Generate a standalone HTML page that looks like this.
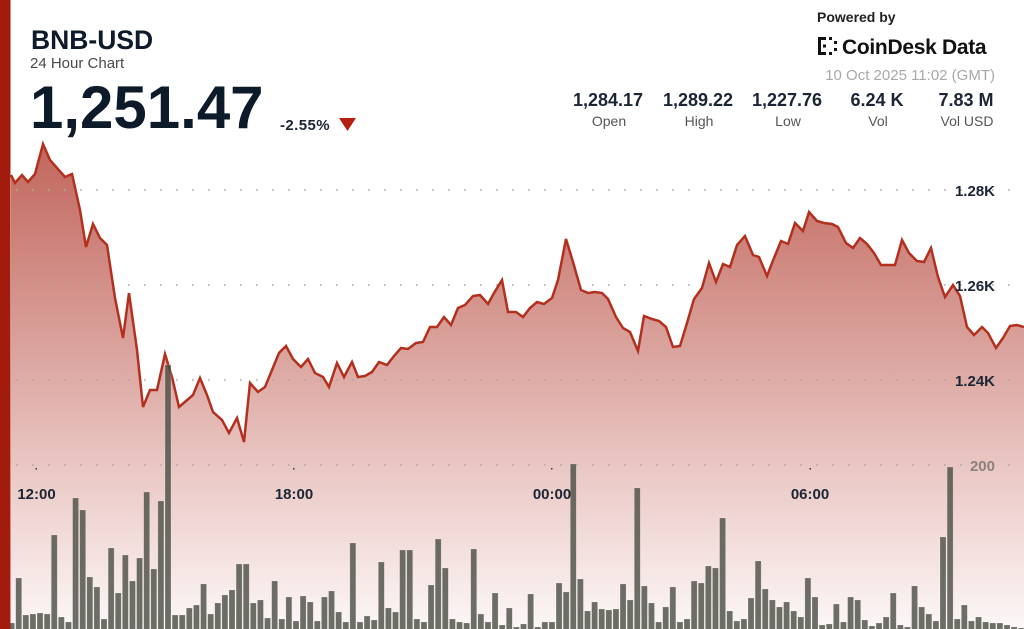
<!DOCTYPE html>
<html>
<head>
<meta charset="utf-8">
<style>
html,body{margin:0;padding:0;background:#fff;}
body{width:1024px;height:629px;overflow:hidden;}
svg{display:block;font-family:"Liberation Sans",sans-serif;}
</style>
</head>
<body>
<svg width="1024" height="629" viewBox="0 0 1024 629" xmlns="http://www.w3.org/2000/svg">
<defs>
<linearGradient id="ag" x1="0" y1="144" x2="0" y2="629" gradientUnits="userSpaceOnUse">
<stop offset="0" stop-color="#c1665c"/>
<stop offset="0.5" stop-color="#dfaea9"/>
<stop offset="0.7" stop-color="#ecccc9"/>
<stop offset="1" stop-color="#fcf7f7"/>
</linearGradient>
</defs>
<rect x="0" y="0" width="1024" height="629" fill="#fff"/>
<polygon fill="url(#ag)" points="11,629 11,175 15,183 22,175 28,182 35,174 43,144 50,160 57,168 65,177 72,174 80,210 86,247 93,224 100,238 107,245 115,298 123,338 129,293 137,350 143,407 150,390 157,390 165,354 172,377 179,407 186,401 193,395 200,378 207,395 213,412 222,420 229,433 237,418 244,442 250,383 258,392 265,387 272,370 279,353 286,346 293,359 301,367 308,359 315,373 323,377 329,387 337,363 344,377 352,362 358,377 365,376 372,372 379,362 387,365 394,356 401,348 408,349 416,343 423,342 430,327 437,327 444,317 451,325 458,308 465,305 473,296 480,295 488,304 494,293 502,280 508,312 516,312 523,317 530,308 537,302 544,304 552,298 558,280 566,239 573,262 581,290 588,293 595,292 602,293 608,299 616,317 623,328 630,332 638,351 644,316 652,319 659,321 666,327 673,347 680,346 687,323 694,299 702,288 709,263 716,282 723,264 730,267 737,245 745,236 753,255 759,257 767,276 774,258 781,241 788,244 795,223 803,231 809,212 817,221 824,223 832,224 838,227 846,243 853,248 860,238 867,244 874,253 881,265 888,265 895,265 902,240 909,253 917,261 924,262 931,248 938,277 945,297 953,285 960,296 967,327 974,335 982,327 988,333 996,348 1003,338 1010,326 1017,325 1024,327 1024,629"/>
<g stroke="#a9a9a9" stroke-width="1.6" stroke-dasharray="1.6 14.4" fill="none">
<line x1="16" y1="190" x2="1024" y2="190"/>
<line x1="16" y1="285" x2="1024" y2="285"/>
<line x1="16" y1="380" x2="1024" y2="380"/>
<line x1="16" y1="465" x2="1024" y2="465"/>
</g>
<polyline fill="none" stroke="#b3301e" stroke-width="2.5" points="11,175 15,183 22,175 28,182 35,174 43,144 50,160 57,168 65,177 72,174 80,210 86,247 93,224 100,238 107,245 115,298 123,338 129,293 137,350 143,407 150,390 157,390 165,354 172,377 179,407 186,401 193,395 200,378 207,395 213,412 222,420 229,433 237,418 244,442 250,383 258,392 265,387 272,370 279,353 286,346 293,359 301,367 308,359 315,373 323,377 329,387 337,363 344,377 352,362 358,377 365,376 372,372 379,362 387,365 394,356 401,348 408,349 416,343 423,342 430,327 437,327 444,317 451,325 458,308 465,305 473,296 480,295 488,304 494,293 502,280 508,312 516,312 523,317 530,308 537,302 544,304 552,298 558,280 566,239 573,262 581,290 588,293 595,292 602,293 608,299 616,317 623,328 630,332 638,351 644,316 652,319 659,321 666,327 673,347 680,346 687,323 694,299 702,288 709,263 716,282 723,264 730,267 737,245 745,236 753,255 759,257 767,276 774,258 781,241 788,244 795,223 803,231 809,212 817,221 824,223 832,224 838,227 846,243 853,248 860,238 867,244 874,253 881,265 888,265 895,265 902,240 909,253 917,261 924,262 931,248 938,277 945,297 953,285 960,296 967,327 974,335 982,327 988,333 996,348 1003,338 1010,326 1017,325 1024,327"/>
<path fill="rgba(72,76,66,0.8)" stroke="rgba(255,255,255,0.35)" stroke-width="0.6" d="M8.59,623h6V630h-6z M15.7,578h6V630h-6z M22.81,615h6V630h-6z M29.92,614h6V630h-6z M37.03,613h6V630h-6z M44.14,614h6V630h-6z M51.25,535h6V630h-6z M58.36,617h6V630h-6z M65.47,622h6V630h-6z M72.58,498h6V630h-6z M79.69,510h6V630h-6z M86.8,577h6V630h-6z M93.91,587h6V630h-6z M101.02,619h6V630h-6z M108.13,548h6V630h-6z M115.24,593h6V630h-6z M122.35,555h6V630h-6z M129.46,581h6V630h-6z M136.57,558h6V630h-6z M143.68,492h6V630h-6z M150.79,569h6V630h-6z M157.9,501h6V630h-6z M165.01,365h6V630h-6z M172.12,615h6V630h-6z M179.23,615h6V630h-6z M186.34,608h6V630h-6z M193.45,605h6V630h-6z M200.56,584h6V630h-6z M207.67,614h6V630h-6z M214.78,603h6V630h-6z M221.89,595h6V630h-6z M229,590h6V630h-6z M236.11,564h6V630h-6z M243.22,564h6V630h-6z M250.33,603h6V630h-6z M257.44,600h6V630h-6z M264.55,618h6V630h-6z M271.66,581h6V630h-6z M278.77,619h6V630h-6z M285.88,597h6V630h-6z M292.99,621h6V630h-6z M300.1,596h6V630h-6z M307.21,602h6V630h-6z M314.32,621h6V630h-6z M321.43,597h6V630h-6z M328.54,591h6V630h-6z M335.65,612h6V630h-6z M342.76,622h6V630h-6z M349.87,543h6V630h-6z M356.98,622h6V630h-6z M364.09,616h6V630h-6z M371.2,620h6V630h-6z M378.31,562h6V630h-6z M385.42,608h6V630h-6z M392.53,612h6V630h-6z M399.64,550h6V630h-6z M406.75,550h6V630h-6z M413.86,619h6V630h-6z M420.97,622h6V630h-6z M428.08,585h6V630h-6z M435.19,539h6V630h-6z M442.3,568h6V630h-6z M449.41,619h6V630h-6z M456.52,622h6V630h-6z M463.63,623h6V630h-6z M470.74,549h6V630h-6z M477.85,614h6V630h-6z M484.96,622h6V630h-6z M492.07,593h6V630h-6z M499.18,625h6V630h-6z M506.29,608h6V630h-6z M513.4,627h6V630h-6z M520.51,624h6V630h-6z M527.62,594h6V630h-6z M534.73,627h6V630h-6z M541.84,622h6V630h-6z M548.95,622h6V630h-6z M556.06,583h6V630h-6z M563.17,592h6V630h-6z M570.28,464h6V630h-6z M577.39,579h6V630h-6z M584.5,611h6V630h-6z M591.61,602h6V630h-6z M598.72,609h6V630h-6z M605.83,610h6V630h-6z M612.94,609h6V630h-6z M620.05,584h6V630h-6z M627.16,600h6V630h-6z M634.27,488h6V630h-6z M641.38,586h6V630h-6z M648.49,603h6V630h-6z M655.6,622h6V630h-6z M662.71,607h6V630h-6z M669.82,587h6V630h-6z M676.93,622h6V630h-6z M684.04,619h6V630h-6z M691.15,581h6V630h-6z M698.26,583h6V630h-6z M705.37,566h6V630h-6z M712.48,568h6V630h-6z M719.59,518h6V630h-6z M726.7,611h6V630h-6z M733.81,621h6V630h-6z M740.92,619h6V630h-6z M748.03,598h6V630h-6z M755.14,561h6V630h-6z M762.25,589h6V630h-6z M769.36,600h6V630h-6z M776.47,607h6V630h-6z M783.58,602h6V630h-6z M790.69,611h6V630h-6z M797.8,617h6V630h-6z M804.91,578h6V630h-6z M812.02,597h6V630h-6z M819.13,625h6V630h-6z M826.24,624h6V630h-6z M833.35,604h6V630h-6z M840.46,622h6V630h-6z M847.57,597h6V630h-6z M854.68,600h6V630h-6z M861.79,620h6V630h-6z M868.9,626h6V630h-6z M876.01,623h6V630h-6z M883.12,617h6V630h-6z M890.23,593h6V630h-6z M897.34,625h6V630h-6z M904.45,627h6V630h-6z M911.56,586h6V630h-6z M918.67,607h6V630h-6z M925.78,614h6V630h-6z M932.89,621h6V630h-6z M940,537h6V630h-6z M947.11,467h6V630h-6z M954.22,619h6V630h-6z M961.33,605h6V630h-6z M968.44,621h6V630h-6z M975.55,617h6V630h-6z M982.66,622h6V630h-6z M989.77,623h6V630h-6z M996.88,623h6V630h-6z M1003.99,625h6V630h-6z M1011.1,627h6V630h-6z M1018.21,628h6V630h-6z"/>
<g font-weight="bold" font-size="15" fill="#1c2535" text-anchor="end">
<text x="995" y="196">1.28K</text>
<text x="995" y="291">1.26K</text>
<text x="995" y="386">1.24K</text>
<text x="995" y="471" fill="#8c807d">200</text>
</g>
<g fill="#333">
<rect x="35.5" y="468" width="1.5" height="1.5"/>
<rect x="293" y="468" width="1.5" height="1.5"/>
<rect x="551" y="468" width="1.5" height="1.5"/>
<rect x="809.5" y="468" width="1.5" height="1.5"/>
</g>
<g font-weight="bold" font-size="15" fill="#1c2535" text-anchor="middle">
<text x="36.5" y="499">12:00</text>
<text x="294" y="499">18:00</text>
<text x="552" y="499">00:00</text>
<text x="810" y="499">06:00</text>
</g>
<rect x="0" y="0" width="10.5" height="629" fill="#a31b0d"/>
<text x="31" y="49" font-size="26.5" font-weight="bold" fill="#0f1b2b">BNB-USD</text>
<text x="30" y="68" font-size="15" fill="#4a4a4a">24 Hour Chart</text>
<text x="30" y="128" font-size="60" font-weight="bold" fill="#0d1a2a">1,251.47</text>
<text x="280" y="130" font-size="15" font-weight="bold" fill="#1c2535" letter-spacing="0.4">-2.55%</text>
<polygon points="339,118 356,118 347.5,131" fill="#b3200f"/>
<text x="817" y="22" font-size="14" font-weight="bold" fill="#222">Powered by</text>
<g fill="#111">
<rect x="818" y="37" width="3" height="18"/>
<rect x="818" y="37" width="8" height="3"/>
<rect x="818" y="52" width="8" height="3"/>
<rect x="823" y="44.5" width="3" height="3"/>
<rect x="829" y="37" width="3" height="3"/>
<rect x="829" y="52" width="3" height="3"/>
<rect x="834" y="41" width="3" height="3"/>
<rect x="834" y="48" width="3" height="3"/>
</g>
<text x="842" y="54" font-size="21" font-weight="bold" fill="#111" letter-spacing="-0.3">CoinDesk Data</text>
<text x="995" y="80" font-size="15" fill="#a9a9a9" text-anchor="end">10 Oct 2025 11:02 (GMT)</text>
<g font-size="18" font-weight="bold" fill="#1c2535" text-anchor="middle">
<text x="608" y="106">1,284.17</text>
<text x="698" y="106">1,289.22</text>
<text x="787" y="106">1,227.76</text>
<text x="877" y="106">6.24 K</text>
<text x="966" y="106">7.83 M</text>
</g>
<g font-size="14" fill="#555" text-anchor="middle">
<text x="609" y="126">Open</text>
<text x="699" y="126">High</text>
<text x="788" y="126">Low</text>
<text x="878" y="126">Vol</text>
<text x="967" y="126">Vol USD</text>
</g>
</svg>
</body>
</html>
